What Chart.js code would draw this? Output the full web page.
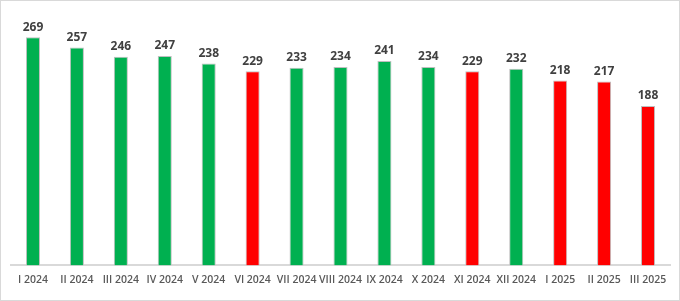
<!DOCTYPE html>
<html>
<head>
<meta charset="utf-8">
<script src="https://cdn.jsdelivr.net/npm/chart.js@4"></script>
<style>
    html, body { margin: 0; padding: 0; background: #fff; }
    .wrap { position: relative; width: 678px; height: 299px; border: 1px solid #d9d9d9; }
</style>
</head>
<body>
<div class="wrap"><canvas id="barChart"></canvas></div>
<script>
// Data
const months = ['I 2024', 'II 2024', 'III 2024', 'IV 2024', 'V 2024', 'VI 2024', 'VII 2024', 'VIII 2024',
    'IX 2024', 'X 2024', 'XI 2024', 'XII 2024', 'I 2025', 'II 2025', 'III 2025'];
const values = [269, 257, 246, 247, 238, 229, 233, 234, 241, 234, 229, 232, 218, 217, 188];
const isDown = [false, false, false, false, false, true, false, false, false, false, true, false, true, true, true];

const green = '#00b050';
const red = '#ff0000';

// Value labels above bars
const valueLabels = {
    id: 'valueLabels',
    afterDatasetsDraw(chart) {
        const ctx = chart.ctx;
        const meta = chart.getDatasetMeta(0);
        ctx.save();
        ctx.font = 'bold 12px "Open Sans", sans-serif';
        ctx.fillStyle = '#404040';
        ctx.textAlign = 'center';
        ctx.textBaseline = 'bottom';
        meta.data.forEach(function(bar, i) {
            ctx.fillText(values[i], bar.x, bar.y - 4);
        });
        ctx.restore();
    }
};

new Chart(document.getElementById('barChart'), {
    type: 'bar',
    data: {
        labels: months,
        datasets: [{
            data: values,
            backgroundColor: isDown.map(d => d ? red : green),
            borderColor: '#bfbfbf',
            borderWidth: 1,
            categoryPercentage: 1,
            barPercentage: 0.32
        }]
    },
    options: {
        responsive: true,
        maintainAspectRatio: false,
        animation: false,
        layout: { padding: { left: 10, right: 9, top: 10, bottom: 6 } },
        plugins: {
            legend: { display: false },
            tooltip: { enabled: false }
        },
        scales: {
            x: {
                grid: { display: false, drawTicks: false },
                border: { color: '#d9d9d9', width: 2 },
                ticks: {
                    color: '#595959',
                    font: { family: '"Open Sans", sans-serif', size: 10.5, weight: '600' },
                    padding: 8,
                    maxRotation: 0,
                    autoSkip: false
                }
            },
            y: {
                display: false,
                min: 0,
                max: 300
            }
        }
    },
    plugins: [valueLabels]
});
</script>
</body>
</html>
